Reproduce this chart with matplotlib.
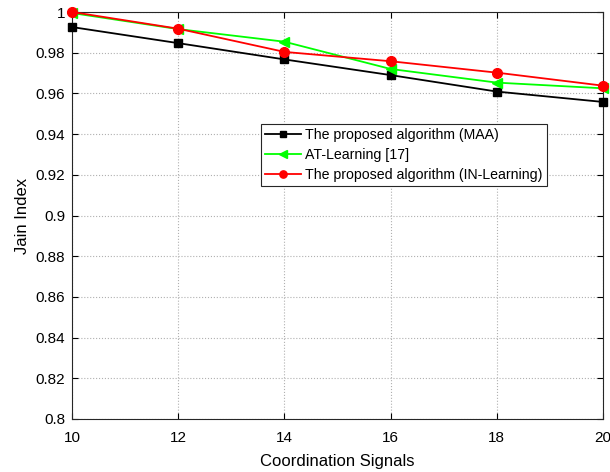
import matplotlib
matplotlib.use("Agg")
import matplotlib.pyplot as plt

plt.rcParams['font.family'] = ['Liberation Sans', 'DejaVu Sans']

x = [10, 12, 14, 16, 18, 20]
maa = [0.9926, 0.9847, 0.9767, 0.9690, 0.9609, 0.9558]
at = [0.9995, 0.9916, 0.9854, 0.9720, 0.9653, 0.9625]
inl = [1.0000, 0.9918, 0.9804, 0.9758, 0.9702, 0.9638]
labels = ['The proposed algorithm (MAA)', 'AT-Learning [17]', 'The proposed algorithm (IN-Learning)']

fig = plt.figure(figsize=(6.10, 4.72), dpi=100)
ax = fig.add_axes([72/610, 1-419/472, (603-72)/610, (419-12)/472])
ax.plot(x, maa, color='black', marker='s', markersize=5.5, linewidth=1.3, label=labels[0], clip_on=False, zorder=3)
ax.plot(x, at, color='#00ff00', marker='<', markersize=7.5, linewidth=1.3, label=labels[1], clip_on=False, zorder=3)
ax.plot(x, inl, color='red', marker='o', markersize=7, linewidth=1.3, label=labels[2], clip_on=False, zorder=3)

ax.set_xlim(10, 20)
ax.set_ylim(0.8, 1.0)
ax.set_xticks(x)
yt = [0.8 + 0.02*i for i in range(11)]
ax.set_yticks(yt)
ax.set_yticklabels(['0.8', '0.82', '0.84', '0.86', '0.88', '0.9', '0.92', '0.94', '0.96', '0.98', '1'])
ax.grid(True, linestyle=':', color='#b0b0b0', linewidth=0.8)
ax.tick_params(direction='in', top=True, right=True, labelsize=11, length=4)
ax.tick_params(axis='x', pad=9)
ax.tick_params(axis='y', pad=5)
for s in ax.spines.values():
    s.set_color('#262626')
    s.set_linewidth(0.8)
ax.set_xlabel('Coordination Signals', fontsize=12, labelpad=6)
ax.set_ylabel('Jain Index', fontsize=12)
leg = ax.legend(loc='upper left', bbox_to_anchor=((261-72)/531, (419-124)/407), fontsize=10.2,
                fancybox=False, framealpha=1, edgecolor='#262626', borderpad=0.3,
                labelspacing=0.4, handlelength=2.5, handletextpad=0.3, borderaxespad=0,
                markerscale=0.75)
leg.get_frame().set_linewidth(0.8)
fig.savefig('out.png', dpi=100)
